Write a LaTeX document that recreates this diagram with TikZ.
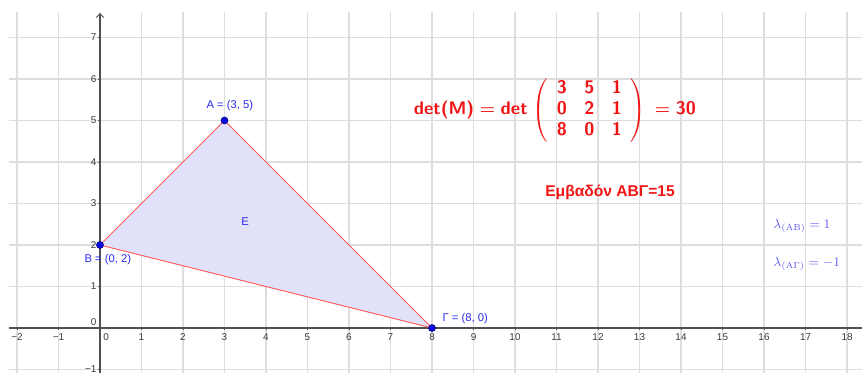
\documentclass[tikz,border=0pt]{standalone}
\usepackage[no-math]{fontspec}
\setmainfont{Liberation Sans}
\usepackage{amsmath}
\usepackage{xcolor}
\usepackage{tikz}
\usetikzlibrary{arrows.meta}

\definecolor{gridgray}{HTML}{DEDEDE}
\definecolor{axisgray}{HTML}{505050}
\definecolor{ticktext}{HTML}{3A3A3A}
\definecolor{ptblue}{HTML}{0A0AE6}
\definecolor{ptedge}{HTML}{00006E}
\definecolor{lblblue}{HTML}{2A2AF0}
\definecolor{lamblue}{HTML}{5C5CF0}
\definecolor{edgered}{HTML}{FF5A5A}
\definecolor{areafill}{HTML}{E1E1FA}
\definecolor{detred}{HTML}{F01414}

\begin{document}
\begin{tikzpicture}[
  x=1cm,y=1cm,
  gridline/.style={gridgray,line width=0.8pt},
  axis/.style={axisgray,line width=0.7pt},
  tick/.style={axisgray,line width=0.5pt},
  ticklabel/.style={font=\fontsize{6.8}{8}\selectfont,text=ticktext,inner sep=0pt},
  point/.style={circle,fill=ptblue,draw=ptedge,line width=0.4pt,
                minimum size=4.8pt,inner sep=0pt},
  ptlabel/.style={font=\fontsize{7.7}{9}\selectfont,text=lblblue,inner sep=0pt},
  side/.style={edgered,line width=0.6pt},
  detlabel/.style={font=\sffamily\bfseries\boldmath\fontsize{12.5}{14.4}\selectfont,
                   text=detred,inner sep=0pt},
  arealabel/.style={font=\bfseries\fontsize{10.7}{12}\selectfont,text=detred,inner sep=0pt},
  lamlabel/.style={font=\fontsize{9}{11}\selectfont,text=lamblue,inner sep=0pt,anchor=west}
]
\useasboundingbox (-2.4096,-1.0843) rectangle (18.3614,7.9036);
\fill[white] (-2.4096,-1.0843) rectangle (18.3614,7.9036);

% grid and axes
\draw[gridline] (-2.193,-1.0843) grid (18.3614,7.614);
\draw[axis] (-2.193,0) -- (18.3614,0);
\draw[axis,-{Straight Barb[length=0.9mm,width=1.8mm]}] (0,-1.0843) -- (0,7.59);
\foreach \x in {-2,-1,1,2,...,18} \draw[tick] (\x,0) -- (\x,-0.06);
\foreach \y in {-1,1,2,...,7} \draw[tick] (0,\y) -- (-0.06,\y);

\foreach \x in {1,2,...,18} \node[ticklabel] at (\x,-0.22) {\x};
\node[ticklabel] at (-2,-0.22) {−2};
\node[ticklabel] at (-1,-0.22) {−1};
\node[ticklabel] at (0.145,-0.22) {0};
\foreach \y in {1,2,...,7} \node[ticklabel,anchor=east] at (-0.08,\y) {\y};
\node[ticklabel,anchor=east] at (-0.08,0.15) {0};
\node[ticklabel,anchor=east] at (-0.08,-0.99) {−1};

% triangle
\coordinate (pa) at (3,5);
\coordinate (pb) at (0,2);
\coordinate (pg) at (8,0);
\fill[areafill] (pa) -- (pb) -- (pg) -- cycle;
\draw[side] (pa) -- (pb);
\draw[side] (pb) -- (pg);
\draw[side] (pg) -- (pa);
\node[ptlabel] (area) at (3.494,2.554) {E};

\node[point] (A) at (pa) {};
\node[point] (B) at (pb) {};
\node[point] (G) at (pg) {};
\node[ptlabel] (labA) at (3.13,5.37) {A = (3, 5)};
\node[ptlabel] (labB) at (0.19,1.64) {B = (0, 2)};
\node[ptlabel] (labG) at (8.80,0.22) {Γ = (8, 0)};

% determinant and area
\node[detlabel] (detM) at (10.96,5.24)
  {det(M)${}={}$det\;$\left(\begin{tabular}{@{\hspace{6pt}}c@{\hspace{12pt}}c@{\hspace{12pt}}c@{\hspace{6pt}}}
   3&5&1\\0&2&1\\8&0&1\end{tabular}\right){}={}$30};
\node[arealabel] (emb) at (12.29,3.277) {Εμβαδόν ΑΒΓ=15};

% slopes
\node[lamlabel] (lamAB) at (16.22,2.458) {$\lambda_{(\mathrm{AB})} = 1$};
\node[lamlabel] (lamAG) at (16.22,1.542) {$\lambda_{(\mathrm{A\Gamma})} = -1$};
\end{tikzpicture}
\end{document}
